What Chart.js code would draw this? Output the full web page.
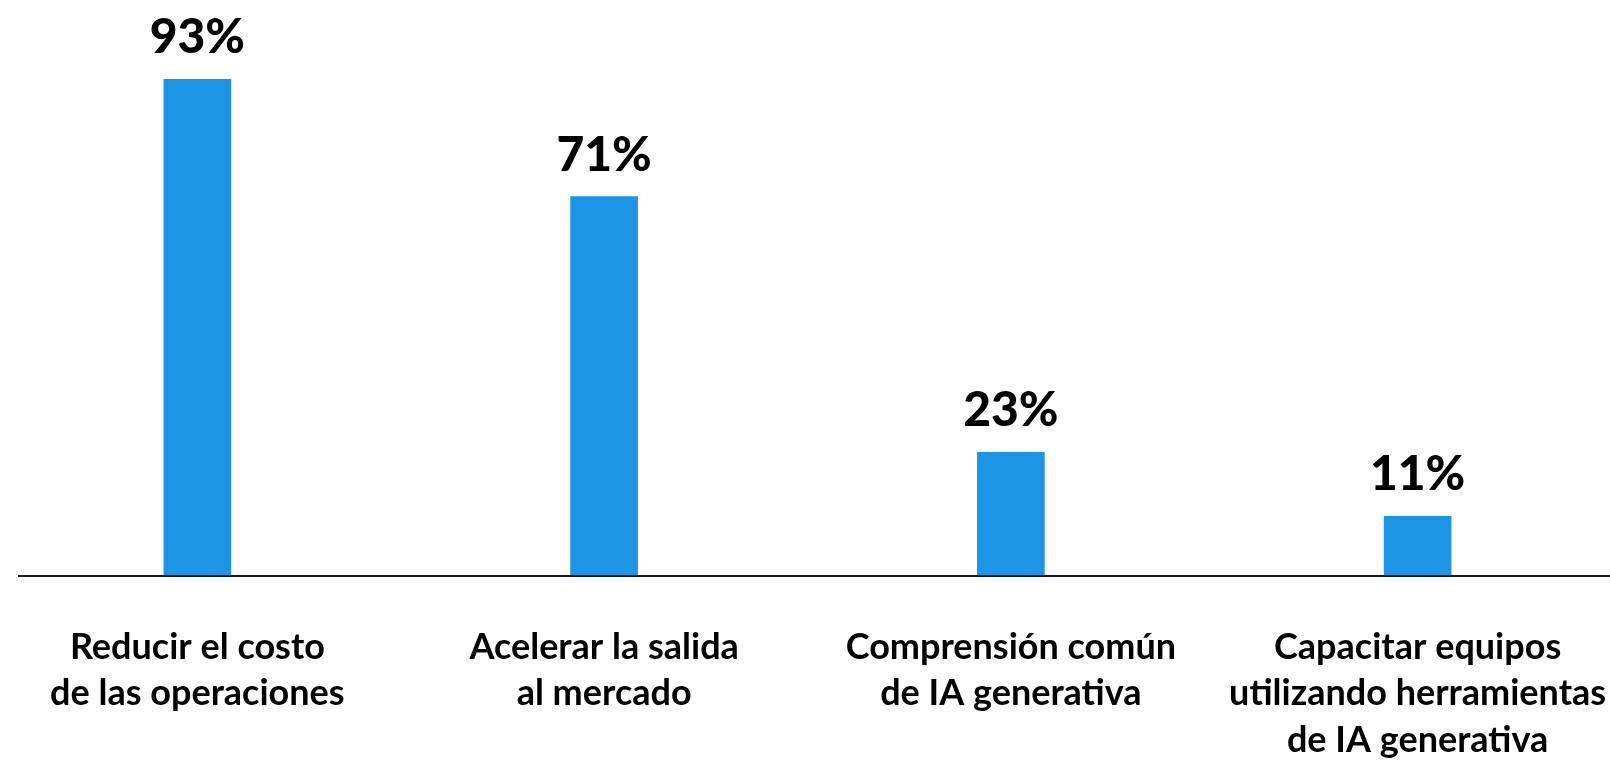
<!DOCTYPE html>
<html>
<head>
<meta charset="utf-8">
<script src="https://cdn.jsdelivr.net/npm/chart.js@4"></script>
<style>
  html, body { margin: 0; padding: 0; background: #fff; overflow: hidden; }
  #chart { position: absolute; left: -6px; top: 0; }
</style>
</head>
<body>
<canvas id="chart" width="1627" height="760"></canvas>
<script>
const categories = [
    ['Reducir el costo', 'de las operaciones'],
    ['Acelerar la salida', 'al mercado'],
    ['Comprensión común', 'de IA generativa'],
    ['Capacitar equipos', 'utilizando herramientas', 'de IA generativa']
];
const values = [93, 71, 23, 11];

const FONT = 'Lato, "Open Sans", sans-serif';

// value labels over each bar
const valueLabels = {
    id: 'valueLabels',
    afterDatasetsDraw(chart) {
        const ctx = chart.ctx;
        const meta = chart.getDatasetMeta(0);
        ctx.save();
        ctx.font = `900 48px ${FONT}`;
        ctx.fillStyle = '#000';
        ctx.textAlign = 'center';
        ctx.textBaseline = 'alphabetic';
        meta.data.forEach((bar, i) => {
            ctx.fillText(values[i] + '%', bar.x, bar.y - 26);
        });
        ctx.restore();
    }
};

// baseline runs past the left edge of the plot to the page edge
const baseLine = {
    id: 'baseLine',
    afterDatasetsDraw(chart) {
        const ctx = chart.ctx;
        const y = chart.scales.y.getPixelForValue(0);
        ctx.save();
        ctx.strokeStyle = '#1a1a1a';
        ctx.lineWidth = 2;
        ctx.beginPath();
        ctx.moveTo(24, y + 1);
        ctx.lineTo(chart.width, y + 1);
        ctx.stroke();
        ctx.restore();
    }
};

new Chart(document.getElementById('chart'), {
    type: 'bar',
    data: {
        labels: categories,
        datasets: [{
            data: values,
            backgroundColor: '#1e95e4',
            barThickness: 67
        }]
    },
    options: {
        responsive: false,
        animation: false,
        layout: { padding: { top: 42, left: 0, right: 0, bottom: 0 } },
        plugins: { legend: { display: false }, tooltip: { enabled: false } },
        scales: {
            y: { display: false, min: 0, max: 100 },
            x: {
                grid: { display: false, drawTicks: false },
                border: { display: false },
                afterFit: (scale) => {
                    scale.height = 185;
                    // let the long labels run off the edges instead of shrinking the plot
                    scale.paddingLeft = 0;
                    scale.paddingRight = 0;
                },
                ticks: {
                    color: '#000',
                    padding: 49,
                    maxRotation: 0,
                    autoSkip: false,
                    font: { family: FONT, size: 36, weight: 'bold', lineHeight: 1.29 }
                }
            }
        }
    },
    plugins: [valueLabels, baseLine]
});
</script>
</body>
</html>
